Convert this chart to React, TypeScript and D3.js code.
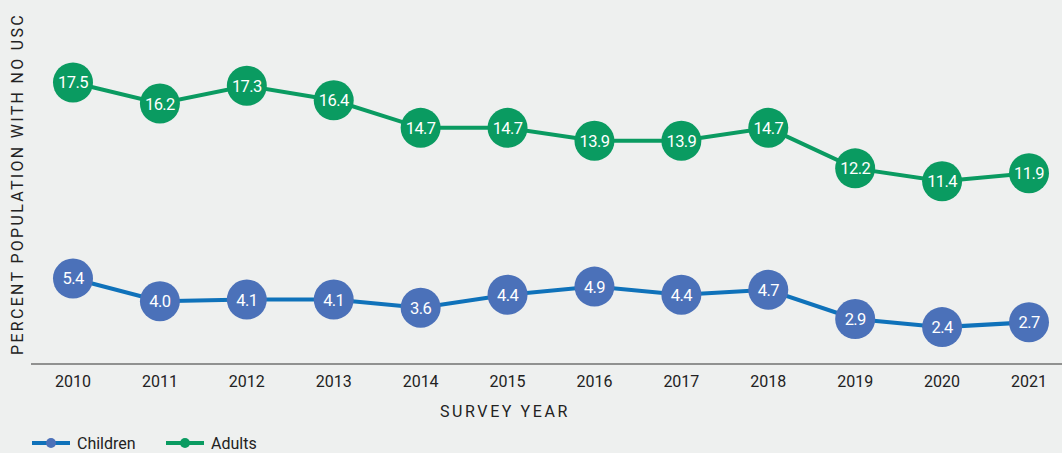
import React, { useRef, useEffect } from "react";
import * as d3 from "d3";

const years = ["2010", "2011", "2012", "2013", "2014", "2015", "2016", "2017", "2018", "2019", "2020", "2021"];
const children = [5.4, 4.0, 4.1, 4.1, 3.6, 4.4, 4.9, 4.4, 4.7, 2.9, 2.4, 2.7];
const adults = [17.5, 16.2, 17.3, 16.4, 14.7, 14.7, 13.9, 13.9, 14.7, 12.2, 11.4, 11.9];

const W = 1062;
const H = 453;
const FONT = "Roboto, 'DejaVu Sans', sans-serif";

const series = [
  { name: "Children", values: children, line: "#0f72ba", dot: "#4b71b9" },
  { name: "Adults", values: adults, line: "#0a9b61", dot: "#0a9b61" },
];

const App = () => {
  const svgRef = useRef<SVGSVGElement>(null);

  useEffect(() => {
    document.body.style.margin = "0";
    const svg = d3.select(svgRef.current);
    svg.selectAll("*").remove();

    svg.append("rect").attr("width", W).attr("height", H).attr("fill", "#eef0ef");

    const x = d3.scalePoint().domain(years).range([73, 1029]);
    const y = d3.scaleLinear().domain([0, 20]).range([366, 42]);

    // axis line
    svg
      .append("line")
      .attr("x1", 31)
      .attr("x2", W)
      .attr("y1", 364)
      .attr("y2", 364)
      .attr("stroke", "#333")
      .attr("stroke-width", 1.2);

    // x ticks
    svg
      .selectAll(".tick")
      .data(years)
      .join("text")
      .attr("x", (d) => x(d)!)
      .attr("y", 387)
      .attr("text-anchor", "middle")
      .style("font-family", FONT)
      .style("font-size", "16px")
      .attr("fill", "#222")
      .text((d) => d);

    svg
      .append("text")
      .attr("x", 505)
      .attr("y", 417)
      .attr("text-anchor", "middle")
      .style("font-family", FONT)
      .style("font-size", "16px")
      .style("letter-spacing", "2.6px")
      .attr("fill", "#222")
      .text("SURVEY YEAR");

    svg
      .append("text")
      .attr("transform", "translate(23,184) rotate(-90)")
      .attr("text-anchor", "middle")
      .style("font-family", FONT)
      .style("font-size", "16px")
      .style("letter-spacing", "2.3px")
      .attr("fill", "#222")
      .text("PERCENT POPULATION WITH NO USC");

    const line = d3
      .line<number>()
      .x((d, i) => x(years[i])!)
      .y((d) => y(d));

    series.forEach((s) => {
      svg
        .append("path")
        .datum(s.values)
        .attr("d", line)
        .attr("fill", "none")
        .attr("stroke", s.line)
        .attr("stroke-width", 4);

      const g = svg
        .append("g")
        .selectAll("g")
        .data(s.values)
        .join("g")
        .attr("transform", (d, i) => `translate(${x(years[i])},${y(d)})`);

      g.append("circle").attr("r", 20).attr("fill", s.dot);
      g.append("text")
        .attr("text-anchor", "middle")
        .attr("dy", "0.36em")
        .style("font-family", FONT)
        .style("font-size", "16.5px")
        .style("letter-spacing", "-0.6px")
        .attr("fill", "#fff")
        .text((d) => d.toFixed(1));
    });

    // legend
    const legend = [
      { ...series[0], x0: 32 },
      { ...series[1], x0: 166 },
    ];
    legend.forEach((l) => {
      const g = svg.append("g").attr("transform", `translate(${l.x0},443)`);
      g.append("line").attr("x1", 0).attr("x2", 38).attr("stroke", l.line).attr("stroke-width", 4);
      g.append("circle").attr("cx", 19).attr("r", 5).attr("fill", l.dot);
      g.append("text")
        .attr("x", 45)
        .attr("dy", "0.36em")
        .style("font-family", FONT)
        .style("font-size", "16px")
        .attr("fill", "#222")
        .text(l.name);
    });
  }, []);

  return <svg ref={svgRef} width={W} height={H} style={{ display: "block" }} />;
};

export default App;
